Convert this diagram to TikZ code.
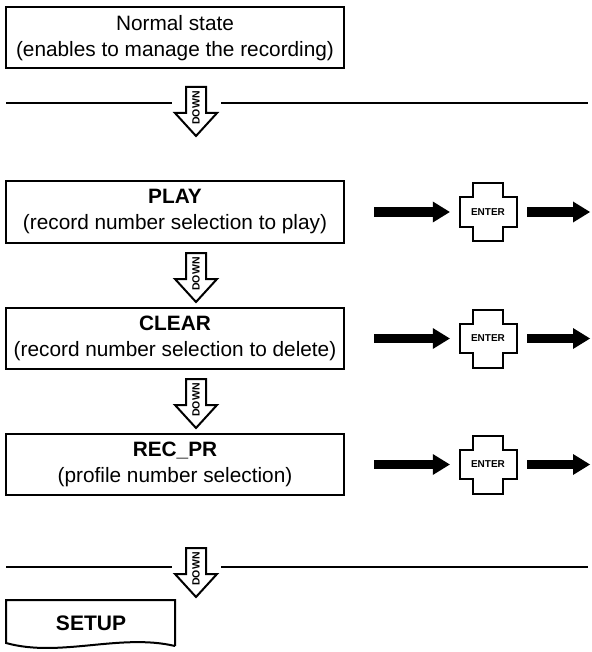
\documentclass[tikz,border=0pt]{standalone}
\usepackage{fontspec}
\setmainfont{Liberation Sans}
\usetikzlibrary{arrows.meta}
\tikzset{
  pics/downarr/.style={code={
    \draw[downshape] (-10,0) -- (10,0) -- (10,26) -- (21,26) -- (0,49) -- (-21,26) -- (-10,26) -- cycle;
    \node[downtxt] (-t) at (0,21) {DOWN};
  }},
  pics/enterkey/.style={code={
    \draw[crossline] (-15,-29) -- (15,-29) -- (15,-14.5) -- (28.5,-14.5) -- (28.5,14.5) -- (15,14.5) -- (15,29) -- (-15,29) -- (-15,14.5) -- (-28.5,14.5) -- (-28.5,-14.5) -- (-15,-14.5) -- cycle;
    \node[crossbox] (-k) at (0,0) {ENTER};
  }}
}
\begin{document}
\begin{tikzpicture}[x=1pt,y=-1pt,
  box/.style={draw, line width=2pt, minimum width=338pt, minimum height=61pt, inner sep=0pt, align=center, font=\fontsize{20.8}{26}\selectfont},
  downtxt/.style={rotate=90, font=\bfseries\fontsize{10.5}{10.5}\selectfont, inner sep=0pt},
  downshape/.style={draw, line width=2pt, fill=white, line join=miter},
  sep/.style={line width=2pt},
  bigarrow/.style={line width=9pt, -{Triangle[length=17pt,width=21pt,line width=0pt]}},
  crossbox/.style={minimum width=57pt, minimum height=58pt, inner sep=0pt, font=\bfseries\fontsize{10}{10}\selectfont},
  crossline/.style={line width=2pt, line join=miter}
]
\useasboundingbox (0,0) rectangle (591,652);

% boxes
\node[box] (normal) at (175,38) {Normal state\\(enables to manage the recording)};
\node[box] (play) at (175,212) {\textbf{PLAY}\\(record number selection to play)};
\node[box] (clear) at (175,338.5) {\textbf{CLEAR}\\(record number selection to delete)};
\node[box] (rec) at (175,464.5) {\textbf{REC\_PR}\\(profile number selection)};

% separator lines
\coordinate (l1a) at (6,103);
\coordinate (l1b) at (172,103);
\coordinate (l1c) at (221,103);
\coordinate (l1d) at (588,103);
\draw[sep] (l1a) -- (l1b);
\draw[sep] (l1c) -- (l1d);
\coordinate (l2a) at (6,567);
\coordinate (l2b) at (172,567);
\coordinate (l2c) at (221,567);
\coordinate (l2d) at (588,567);
\draw[sep] (l2a) -- (l2b);
\draw[sep] (l2c) -- (l2d);

% down arrows
\pic (d1) at (196,87) {downarr};
\pic (d2) at (196,253) {downarr};
\pic (d3) at (196,379) {downarr};
\pic (d4) at (196,548) {downarr};

% enter keys
\pic (e1) at (488,212) {enterkey};
\pic (e2) at (488,338.5) {enterkey};
\pic (e3) at (488,464.5) {enterkey};

\coordinate (o1) at (590,212);
\coordinate (o2) at (590,338.5);
\coordinate (o3) at (590,464.5);

\draw[bigarrow, shorten <=29pt, shorten >=9.5pt] (play.east) -- (e1-k.west);
\draw[bigarrow, shorten <=10.5pt] (e1-k.east) -- (o1);
\draw[bigarrow, shorten <=29pt, shorten >=9.5pt] (clear.east) -- (e2-k.west);
\draw[bigarrow, shorten <=10.5pt] (e2-k.east) -- (o2);
\draw[bigarrow, shorten <=29pt, shorten >=9.5pt] (rec.east) -- (e3-k.west);
\draw[bigarrow, shorten <=10.5pt] (e3-k.east) -- (o3);

% setup document shape
\draw[line width=2pt, line join=miter] (175,646) -- (175,600) -- (6,600) -- (6,643) .. controls (60,658) and (120,633) .. (175,646);
\node[font=\bfseries\fontsize{21}{24}\selectfont, inner sep=0pt] (setup) at (91,623) {SETUP};
\end{tikzpicture}
\end{document}
